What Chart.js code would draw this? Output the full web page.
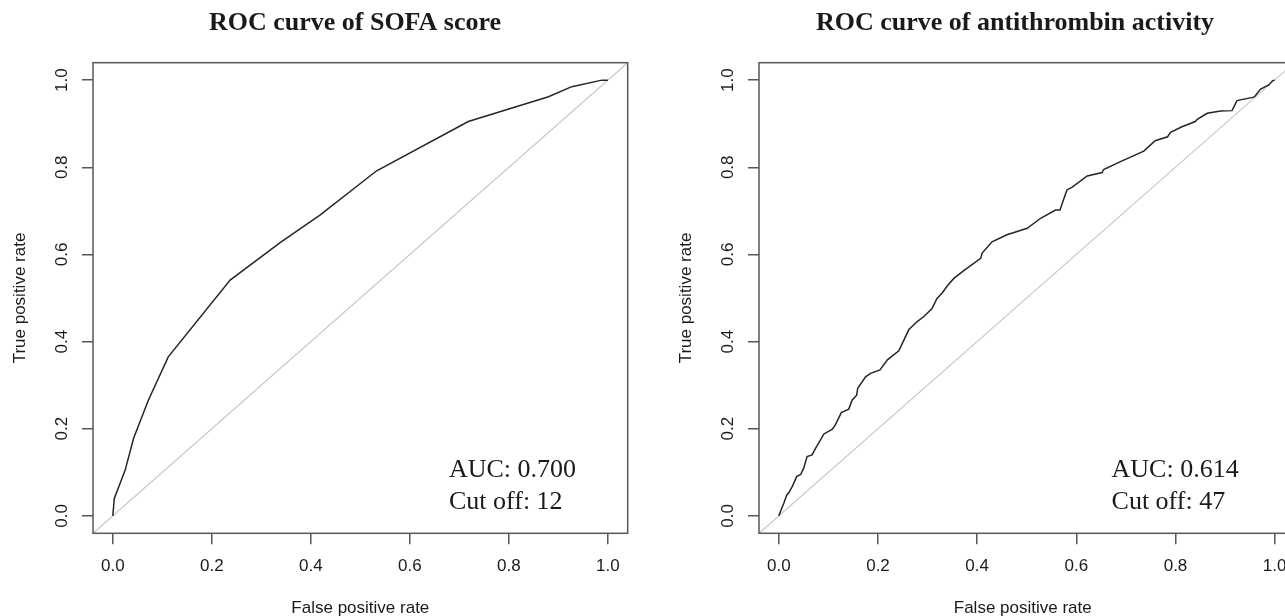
<!DOCTYPE html>
<html>
<head>
<meta charset="utf-8">
<title>ROC curves</title>
<script src="https://cdn.jsdelivr.net/npm/chart.js@4.4.1/dist/chart.umd.min.js"></script>
<style>
  html, body { margin: 0; padding: 0; background: #ffffff; overflow: hidden; }
  body { width: 1285px; height: 616px; position: relative; }
  .panel { position: absolute; top: 0; }
</style>
</head>
<body>
<div class="panel" style="left:0px"><canvas id="rocSofa" width="640" height="616"></canvas></div>
<div class="panel" style="left:640px"><canvas id="rocAt" width="660" height="616"></canvas></div>
<script>
// datos
const tickValues = [0, 0.2, 0.4, 0.6, 0.8, 1.0];
const tickLabels = ['0.0', '0.2', '0.4', '0.6', '0.8', '1.0'];
const diagonal = [-0.04, 1.04];

const sofaFpr = [0, 0.003, 0.025, 0.042, 0.072, 0.112, 0.237, 0.338, 0.419, 0.533, 0.718, 0.880, 0.927, 0.988, 1];
const sofaTpr = [0, 0.040, 0.105, 0.178, 0.266, 0.365, 0.541, 0.627, 0.691, 0.792, 0.905, 0.962, 0.985, 1.0, 1];

const atFpr = [0, 0.007, 0.010, 0.016, 0.020, 0.027, 0.036, 0.044, 0.050, 0.057, 0.067, 0.074, 0.091, 0.108,
  0.114, 0.126, 0.141, 0.148, 0.157, 0.159, 0.175, 0.185, 0.204, 0.219, 0.242, 0.262, 0.279, 0.292, 0.309,
  0.319, 0.329, 0.340, 0.353, 0.373, 0.407, 0.410, 0.430, 0.460, 0.501, 0.528, 0.558, 0.567, 0.581, 0.591,
  0.622, 0.652, 0.655, 0.689, 0.736, 0.759, 0.784, 0.790, 0.813, 0.840, 0.844, 0.864, 0.891, 0.914, 0.924,
  0.958, 0.961, 0.971, 0.988, 0.996, 1];
const atTpr = [0, 0.021, 0.029, 0.048, 0.053, 0.067, 0.090, 0.095, 0.109, 0.136, 0.140, 0.155, 0.188, 0.199,
  0.209, 0.237, 0.245, 0.266, 0.277, 0.293, 0.319, 0.327, 0.335, 0.358, 0.379, 0.427, 0.446, 0.457, 0.476,
  0.499, 0.511, 0.528, 0.545, 0.563, 0.591, 0.603, 0.629, 0.645, 0.660, 0.683, 0.702, 0.702, 0.748, 0.754,
  0.780, 0.788, 0.795, 0.813, 0.837, 0.861, 0.870, 0.880, 0.893, 0.905, 0.910, 0.924, 0.929, 0.930, 0.953,
  0.961, 0.964, 0.979, 0.989, 0.999, 1];

const titulos = ['ROC curve of SOFA score', 'ROC curve of antithrombin activity'];
const textosAuc = [['AUC: 0.700', 'Cut off: 12'], ['AUC: 0.614', 'Cut off: 47']];
const ejeX = 'False positive rate';
const ejeY = 'True positive rate';

const colorMarco = '#575757';
const colorTexto = '#1a1a1a';

// dibuja marco, etiquetas y textos al estilo de R
const decoracionR = {
    id: 'decoracionR',
    afterDraw(chart, args, opts) {
        const ctx = chart.ctx;
        const area = chart.chartArea;
        const sx = chart.scales.x;
        const sy = chart.scales.y;
        ctx.save();

        ctx.strokeStyle = colorMarco;
        ctx.lineWidth = 1.5;
        ctx.strokeRect(area.left, area.top, area.right - area.left, area.bottom - area.top);

        ctx.fillStyle = colorTexto;
        ctx.font = '17px "Liberation Sans", Arial, sans-serif';
        ctx.textAlign = 'center';
        ctx.textBaseline = 'middle';
        tickValues.forEach((v, i) => {
            ctx.fillText(tickLabels[i], sx.getPixelForValue(v), area.bottom + 33);
        });
        tickValues.forEach((v, i) => {
            ctx.save();
            ctx.translate(area.left - 31, sy.getPixelForValue(v));
            ctx.rotate(-Math.PI / 2);
            ctx.fillText(tickLabels[i], 0, 0);
            ctx.restore();
        });

        ctx.fillText(ejeX, (area.left + area.right) / 2 + opts.ajusteEjeX, area.bottom + 75);
        ctx.save();
        ctx.translate(area.left - 73, (area.top + area.bottom) / 2);
        ctx.rotate(-Math.PI / 2);
        ctx.fillText(ejeY, 0, 0);
        ctx.restore();

        ctx.textBaseline = 'alphabetic';
        ctx.font = 'bold 26px "Liberation Serif", "Times New Roman", serif';
        ctx.fillText(opts.titulo, opts.tituloX, 30);

        ctx.textAlign = 'left';
        ctx.font = '26px "Liberation Serif", "Times New Roman", serif';
        ctx.fillText(opts.auc[0], sx.getPixelForValue(opts.aucX), sy.getPixelForValue(0.089));
        ctx.fillText(opts.auc[1], sx.getPixelForValue(opts.aucX), sy.getPixelForValue(0.016));

        ctx.restore();
    }
};

function crearPanel(idCanvas, fpr, tpr, indice, conf) {
    const ctx = document.getElementById(idCanvas).getContext('2d');
    const puntos = fpr.map((x, i) => ({ x: x, y: tpr[i] }));
    const linea = diagonal.map(v => ({ x: v, y: v }));

    return new Chart(ctx, {
        type: 'scatter',
        data: {
            datasets: [
                {
                    data: puntos,
                    showLine: true,
                    borderColor: '#262626',
                    borderWidth: 1.5,
                    pointRadius: 0,
                    tension: 0
                },
                {
                    data: linea,
                    showLine: true,
                    borderColor: '#c6c6c6',
                    borderWidth: 1.1,
                    pointRadius: 0
                }
            ]
        },
        plugins: [decoracionR],
        options: {
            responsive: false,
            animation: false,
            devicePixelRatio: 1,
            events: [],
            layout: {
                padding: { left: 0, top: 62.7, right: conf.derecha, bottom: 0 }
            },
            plugins: {
                legend: { display: false },
                tooltip: { enabled: false },
                title: { display: false },
                decoracionR: {
                    titulo: titulos[indice],
                    auc: textosAuc[indice],
                    tituloX: conf.tituloX,
                    aucX: conf.aucX,
                    ajusteEjeX: conf.ajusteEjeX
                }
            },
            scales: {
                x: {
                    type: 'linear',
                    min: diagonal[0],
                    max: diagonal[1],
                    afterBuildTicks: s => { s.ticks = tickValues.map(v => ({ value: v })); },
                    afterFit: s => { s.height = 616 - 533.3; },
                    ticks: { display: false },
                    border: { display: false },
                    grid: {
                        drawOnChartArea: false,
                        drawTicks: true,
                        tickLength: 11,
                        color: colorMarco,
                        lineWidth: 1.5
                    }
                },
                y: {
                    type: 'linear',
                    min: diagonal[0],
                    max: diagonal[1],
                    afterBuildTicks: s => { s.ticks = tickValues.map(v => ({ value: v })); },
                    afterFit: s => { s.width = conf.izquierda; },
                    ticks: { display: false },
                    border: { display: false },
                    grid: {
                        drawOnChartArea: false,
                        drawTicks: true,
                        tickLength: 11,
                        color: colorMarco,
                        lineWidth: 1.5
                    }
                }
            }
        }
    });
}

crearPanel('rocSofa', sofaFpr, sofaTpr, 0, { izquierda: 93, derecha: 640 - 627.7, tituloX: 355, aucX: 0.679, ajusteEjeX: 0 });
crearPanel('rocAt', atFpr, atTpr, 1, { izquierda: 119, derecha: 660 - 654.5, tituloX: 375, aucX: 0.671, ajusteEjeX: -4 });
</script>
</body>
</html>
